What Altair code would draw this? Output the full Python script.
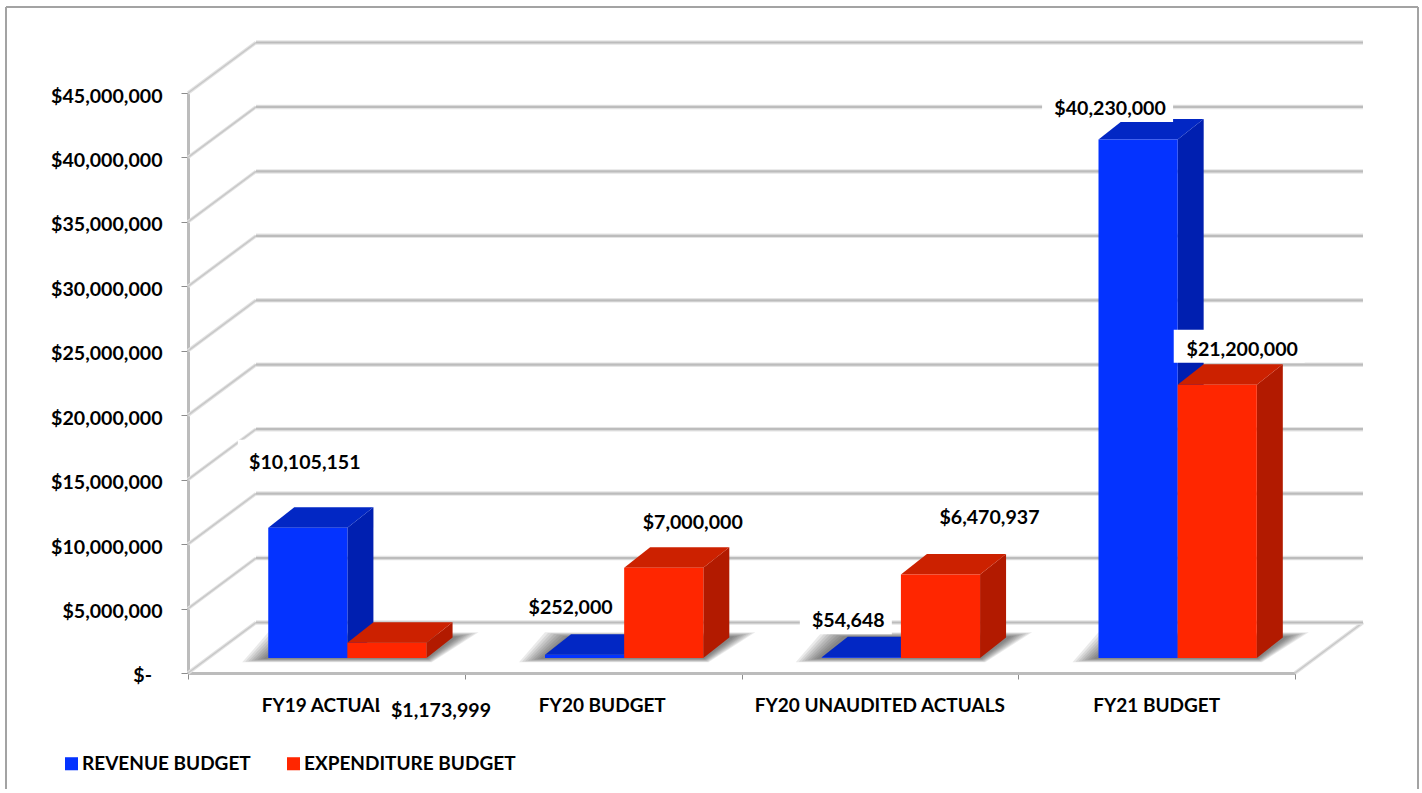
import altair as alt
import pandas as pd

# Values shown on the chart
categories = ["FY19 ACTUAL", "FY20 BUDGET", "FY20 UNAUDITED ACTUALS", "FY21 BUDGET"]
revenue = [10105151, 252000, 54648, 40230000]
expenditure = [1173999, 7000000, 6470937, 21200000]
series_names = ["REVENUE BUDGET", "EXPENDITURE BUDGET"]
y_ticks = list(range(0, 45000001, 5000000))

# Plot size and the scale factors used to express the 3D offsets in data units
WIDTH, HEIGHT = 1107, 580
PX_CAT = WIDTH / 4
PX_USD = HEIGHT / 45e6
FONT = "Lato"
NUM_SIZE = 19.6
CAT_SIZE = 19


def cat(px):
    return px / PX_CAT


def usd(px):
    return px / PX_USD


WALL_DX, WALL_DY = cat(68), usd(50.5)
BAR_DX, BAR_DY = cat(26), usd(20.5)
BAR_LIFT = usd(15)
BAR_START, BAR_W = 0.29, 0.286

# Hand placement of each value label relative to its bar: (dx, dy) from the bar's top centre
rev_label_shift = [(-3, 67), (-14, 49), (-13, 38), (-28, 32.5)]
exp_label_shift = [(54, -66), (29, 47), (49, 59), (25, 37)]
# White backing box round each label: left, right, up, down
rev_label_box = [(67, 67, 21, 15), (53, 52, 16, 14), (48.5, 43.5, 14, 15), (68, 63, 16, 15)]
exp_label_box = [(61.5, 63, 17, 15), (63, 63, 16, 16), (62, 62, 16, 16), (68.5, 62.5, 18, 15)]
cat_label_pos = [0.488, 1.497, 2.5, 3.5]


def bars_frame():
    rows = []
    groups = [
        (series_names[0], revenue, 0, rev_label_shift, rev_label_box),
        (series_names[1], expenditure, 1, exp_label_shift, exp_label_box),
    ]
    for name, values, k, shifts, boxes in groups:
        for i, v in enumerate(values):
            x0 = i + BAR_START + k * BAR_W
            x1 = x0 + BAR_W
            top = BAR_LIFT + v
            lx = (x0 + x1) / 2 + cat(shifts[i][0])
            ly = top + usd(shifts[i][1])
            b = boxes[i]
            rows.append(dict(
                series=name, cat=categories[i], x0=x0, x1=x1, base=BAR_LIFT, top=top,
                label=f"${v:,}", lx=lx, ly=ly,
                bx0=lx - cat(b[0]), bx1=lx + cat(b[1]),
                by0=ly - usd(b[3]), by1=ly + usd(b[2]),
            ))
    return pd.DataFrame(rows)


bars = bars_frame()
X = alt.X("x:Q", scale=alt.Scale(domain=[0, 4], nice=False), title=None,
          axis=alt.Axis(values=[0, 1, 2, 3, 4], labels=False, tickSize=6, tickColor="#8c8c8c",
                        domainColor="#bcbcbc", domainWidth=3, grid=False))
Y = alt.Y("y:Q", scale=alt.Scale(domain=[0, 45000000], nice=False), title=None,
          axis=alt.Axis(values=y_ticks, grid=False, tickSize=7, tickColor="#8c8c8c",
                        domainColor="#bcbcbc", domainWidth=3, labelPadding=19, labelOffset=3,
                        labelFont=FONT, labelFontWeight="bold", labelFontSize=NUM_SIZE, labelColor="#000000",
                        labelExpr="datum.value === 0 ? '' : '$' + format(datum.value, ',')"))


def face_side(color, series):
    rows = []
    for _, r in bars[bars.series == series].iterrows():
        rows.append(dict(id=r["cat"], x=r.x1, y=r.base, y2=r.top))
        rows.append(dict(id=r["cat"], x=r.x1 + BAR_DX, y=r.base + BAR_DY, y2=r.top + BAR_DY))
    return alt.Chart(pd.DataFrame(rows)).mark_area(orient="vertical", color=color).encode(
        x="x:Q", y="y:Q", y2="y2:Q", detail="id:N")


def face_top(color, series):
    rows = []
    for _, r in bars[bars.series == series].iterrows():
        rows.append(dict(id=r["cat"], y=r.top, x=r.x0, x2=r.x1))
        rows.append(dict(id=r["cat"], y=r.top + BAR_DY, x=r.x0 + BAR_DX, x2=r.x1 + BAR_DX))
    return alt.Chart(pd.DataFrame(rows)).mark_area(orient="horizontal", color=color).encode(
        y="y:Q", x="x:Q", x2="x2:Q", detail="id:N")


# Wall and floor lines
back_rows, side_rows = [], []
for v in y_ticks:
    back_rows += [dict(id=v, x=WALL_DX, y=v + WALL_DY), dict(id=v, x=4 + WALL_DX, y=v + WALL_DY)]
    side_rows += [dict(id=v, x=0, y=v), dict(id=v, x=WALL_DX, y=v + WALL_DY)]
side_rows += [dict(id="right", x=4, y=0), dict(id="right", x=4 + WALL_DX, y=WALL_DY)]
back = pd.DataFrame(back_rows)
side = pd.DataFrame(side_rows)


def lines(df, color, width):
    return alt.Chart(df).mark_line(color=color, strokeWidth=width, strokeCap="butt").encode(
        x="x:Q", y="y:Q", detail="id:N")


# Soft contact shadow beneath each pair of bars, built from nested translucent shapes
shadow_layers = []
for grow in [26, 23, 20, 17, 14, 11, 8, 5]:
    rows = []
    for i in range(4):
        x0 = i + BAR_START
        x1 = x0 + 2 * BAR_W
        rows.append(dict(id=i, y=BAR_LIFT - usd(grow * 0.16), x=x0 - cat(grow), x2=x1 + cat(grow * 0.2)))
        rows.append(dict(id=i, y=BAR_LIFT + BAR_DY + usd(grow * 0.2), x=x0 + BAR_DX - cat(grow),
                         x2=x1 + BAR_DX + cat(grow)))
    shadow_layers.append(
        alt.Chart(pd.DataFrame(rows)).mark_area(orient="horizontal", color="#333333", opacity=0.1).encode(
            y="y:Q", x="x:Q", x2="x2:Q", detail="id:N"))

palette = ["#0433ff", "#ff2600"]
legend = alt.Legend(orient="none", legendX=-126, legendY=661, direction="horizontal", columns=2, title=None,
                    symbolType="square", symbolSize=170, symbolStrokeWidth=0, labelOffset=1, columnPadding=33,
                    labelFont=FONT, labelFontWeight="bold", labelFontSize=CAT_SIZE, labelColor="#000000",
                    labelLimit=400, padding=0)


def front(series):
    return alt.Chart(bars[bars.series == series]).mark_bar().encode(
        x="x0:Q", x2="x1:Q", y="base:Q", y2="top:Q",
        color=alt.Color("series:N", scale=alt.Scale(domain=series_names, range=palette), legend=legend))


# Transparent base layer carries the axes
axes = alt.Chart(pd.DataFrame(dict(x=[0, 4], y=[0, 45000000]))).mark_point(opacity=0).encode(x=X, y=Y)

# The zero tick label sits further in than the rest, as in accounting number formats
zero_label = alt.Chart(pd.DataFrame(dict(x=[cat(-36)], y=[0], t=["$-"]))).mark_text(
    font=FONT, fontWeight="bold", fontSize=NUM_SIZE, color="#000000", baseline="middle", align="right", dy=3
).encode(x="x:Q", y="y:Q", text="t:N")

cat_labels = alt.Chart(pd.DataFrame(dict(cat=categories, x=cat_label_pos))).mark_text(
    font=FONT, fontWeight="bold", fontSize=CAT_SIZE, color="#000000", baseline="middle", dy=2
).encode(x="x:Q", y=alt.value(611), text="cat:N")

boxes = alt.Chart(bars).mark_rect(color="#ffffff").encode(x="bx0:Q", x2="bx1:Q", y="by0:Q", y2="by1:Q")
value_labels = alt.Chart(bars).mark_text(
    font=FONT, fontWeight="bold", fontSize=NUM_SIZE, color="#000000", baseline="middle", dy=2
).encode(x="lx:Q", y="ly:Q", text="label:N")

# Outer frame of the chart
frame_left = alt.Chart(pd.DataFrame(dict(a=[0]))).mark_rule(color="#a3a3a3", strokeWidth=2).encode(
    x=alt.value(-182), y=alt.value(-86), y2=alt.value(700))
frame_right = alt.Chart(pd.DataFrame(dict(a=[0]))).mark_rule(color="#a3a3a3", strokeWidth=2).encode(
    x=alt.value(1230), y=alt.value(-86), y2=alt.value(700))
frame_top = alt.Chart(pd.DataFrame(dict(a=[0]))).mark_rule(color="#a3a3a3", strokeWidth=2).encode(
    y=alt.value(-86), x=alt.value(-182), x2=alt.value(1230))

chart = alt.layer(
    axes,
    frame_left, frame_right, frame_top,
    lines(side, "#e2e2e2", 3.5), lines(side, "#c8c8c8", 1.5),
    lines(back, "#e4e4e4", 4.5), lines(back, "#bcbcbc", 2.2),
    *shadow_layers,
    face_side("#001fb0", series_names[0]), face_top("#0227c4", series_names[0]), front(series_names[0]),
    face_side("#b21a00", series_names[1]), face_top("#cc2100", series_names[1]), front(series_names[1]),
    zero_label, cat_labels, boxes, value_labels,
).properties(
    width=WIDTH, height=HEIGHT,
    padding={"left": 188, "top": 93, "right": 127, "bottom": 116},
    autosize=alt.AutoSizeParams(type="none"),
    background="#ffffff",
).configure_view(stroke=None)

chart.save("out.html", embed_options={"renderer": "svg", "actions": False})
